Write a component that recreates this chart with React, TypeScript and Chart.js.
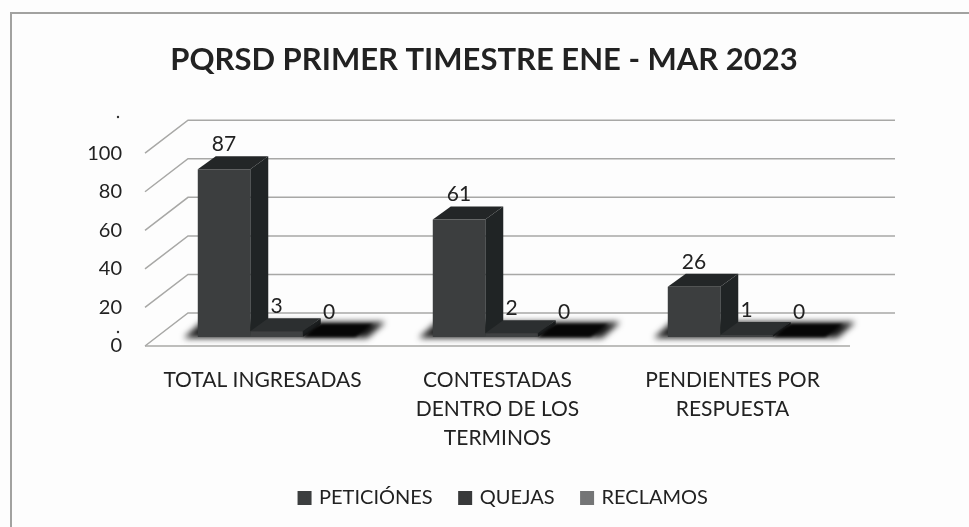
import React, { useEffect, useRef } from "react";
import { Chart, registerables } from "chart.js";

Chart.register(...registerables);

const categories = [
  "TOTAL INGRESADAS",
  ["CONTESTADAS", "DENTRO DE LOS", "TERMINOS"],
  ["PENDIENTES POR", "RESPUESTA"],
];
const peticiones = [87, 61, 26];
const quejas = [3, 2, 1];
const reclamos = [0, 0, 0];
const titleText = "PQRSD PRIMER TIMESTRE ENE - MAR 2023";
const FONT = "Lato, Carlito, 'Open Sans', sans-serif";

const fronts = ["#3c3e3f", "#3f4142", "#111212"];
const sides = ["#202425", "#1c1f20", "#0b0b0b"];
const tops = ["#232627", "#2c2f30", "#060606"];
const legendColors = ["#3c3e3f", "#38393a", "#747576"];

const WALL_DX = 43, WALL_DY = -33;
const BAR_DX = 14, BAR_DY = -9;
const DEPTH_DX = 18, DEPTH_DY = -13;

const scene = {
  id: "scene",
  afterLayout(chart: any) {
    // the reference centres title and legend independently of the plot area
    chart.titleBlock.left += 19;
    chart.titleBlock.right += 19;
    chart.legend.left += 39;
    chart.legend.right += 39;
  },
  beforeDraw(chart: any) {
    const { ctx, width, height } = chart;
    ctx.save();
    ctx.fillStyle = "#fdfdfd";
    ctx.fillRect(0, 0, width, height);
    ctx.strokeStyle = "#a2a2a0";
    ctx.lineWidth = 2;
    ctx.strokeRect(11, 13, 975, 540);
    ctx.fillStyle = "#333";
    ctx.beginPath();
    ctx.arc(118, 117, 1.2, 0, Math.PI * 2);
    ctx.arc(118, 332, 1.2, 0, Math.PI * 2);
    ctx.fill();
    ctx.restore();
  },
  beforeDatasetsDraw(chart: any) {
    const { ctx, chartArea: a, scales } = chart;
    const y = scales.y;
    ctx.save();
    ctx.strokeStyle = "#a8a8a6";
    ctx.lineWidth = 1.5;
    y.ticks.forEach((t: any) => {
      const py = y.getPixelForValue(t.value);
      ctx.beginPath();
      ctx.moveTo(a.left, py);
      ctx.lineTo(a.left + WALL_DX, py + WALL_DY);
      ctx.lineTo(a.right + WALL_DX + 2, py + WALL_DY);
      ctx.stroke();
    });
    const y0 = y.getPixelForValue(0);
    ctx.beginPath();
    ctx.moveTo(a.left, y0);
    ctx.lineTo(a.right, y0);
    ctx.stroke();
    // soft floor shadow under each group
    const m0 = chart.getDatasetMeta(0).data;
    const m2 = chart.getDatasetMeta(2).data;
    m0.forEach((b: any, i: number) => {
      const l = b.x - b.width / 2 + BAR_DX - 14;
      const r = m2[i].x + m2[i].width / 2 + BAR_DX + 12;
      const by = y0 + BAR_DY + 1;
      ctx.save();
      ctx.filter = "blur(3px)";
      ctx.fillStyle = "#1a1a1a";
      ctx.beginPath();
      ctx.moveTo(l, by);
      ctx.lineTo(r, by);
      ctx.lineTo(r + DEPTH_DX, by + DEPTH_DY - 3);
      ctx.lineTo(l + DEPTH_DX, by + DEPTH_DY - 3);
      ctx.closePath();
      ctx.fill();
      ctx.restore();
    });
    ctx.restore();
  },
  // bars are drawn below, left to right, so that each one overlaps its left neighbour's side
  beforeDatasetDraw() {
    return false;
  },
  afterDatasetsDraw(chart: any) {
    const { ctx } = chart;
    [0, 1, 2].forEach((idx) => {
      const meta = chart.getDatasetMeta(idx);
      ctx.save();
      ctx.translate(BAR_DX, BAR_DY);
      if (idx === 2) ctx.filter = "blur(1.5px)";
      meta.data.forEach((b: any) => {
        const l = b.x - b.width / 2, r = b.x + b.width / 2;
        const t = b.y, bot = b.base;
        ctx.fillStyle = sides[idx];
        ctx.beginPath();
        ctx.moveTo(r, t);
        ctx.lineTo(r + DEPTH_DX, t + DEPTH_DY);
        ctx.lineTo(r + DEPTH_DX, bot + DEPTH_DY);
        ctx.lineTo(r, bot);
        ctx.closePath();
        ctx.fill();
        ctx.fillStyle = tops[idx];
        ctx.beginPath();
        ctx.moveTo(l, t);
        ctx.lineTo(l + DEPTH_DX, t + DEPTH_DY);
        ctx.lineTo(r + DEPTH_DX, t + DEPTH_DY);
        ctx.lineTo(r, t);
        ctx.closePath();
        ctx.fill();
      });
      ctx.filter = "none";
      meta.controller.draw();
      ctx.restore();
    });
    ctx.save();
    ctx.fillStyle = "#222";
    ctx.font = `21px ${FONT}`;
    ctx.textAlign = "center";
    ctx.textBaseline = "alphabetic";
    chart.data.datasets.forEach((ds: any, d: number) => {
      chart.getDatasetMeta(d).data.forEach((b: any, i: number) => {
        ctx.fillText(String(ds.data[i]), b.x + BAR_DX, b.y + BAR_DY + DEPTH_DY - 5);
      });
    });
    ctx.restore();
  },
};

export default function App() {
  const ref = useRef<HTMLCanvasElement>(null);
  useEffect(() => {
    document.body.style.margin = "0";
    const chart = new Chart(ref.current!, {
      type: "bar",
      data: {
        labels: categories as any,
        datasets: [
          { label: "PETICIÓNES", data: peticiones, backgroundColor: fronts[0] },
          { label: "QUEJAS", data: quejas, backgroundColor: fronts[1] },
          { label: "RECLAMOS", data: reclamos, backgroundColor: "#6f7071" },
        ],
      },
      options: {
        responsive: false,
        animation: false,
        layout: { padding: { left: 80, right: 119, top: 41, bottom: 9 } },
        datasets: { bar: { categoryPercentage: 0.67, barPercentage: 1 } },
        scales: {
          x: {
            grid: { display: false },
            border: { display: false },
            afterFit: (s: any) => { s.height = 114; },
            ticks: {
              autoSkip: false,
              maxRotation: 0,
              color: "#222",
              padding: 12,
              font: { family: FONT, size: 21, lineHeight: 1.38 },
            },
          },
          y: {
            min: 0,
            max: 100,
            grid: { display: false },
            border: { display: false },
            afterFit: (s: any) => { s.width = 65; },
            ticks: {
              stepSize: 20,
              color: "#222",
              padding: 15,
              font: { family: FONT, size: 20 },
            },
          },
        },
        plugins: {
          title: {
            display: true,
            text: titleText,
            color: "#222",
            font: { family: FONT, size: 31, weight: "bold" },
            padding: { top: 0, bottom: 75 },
          },
          legend: {
            position: "bottom",
            labels: {
              boxWidth: 9,
              boxHeight: 9,
              padding: 28,
              color: "#222",
              font: { family: FONT, size: 20 },
              generateLabels: (c: any) =>
                c.data.datasets.map((ds: any, i: number) => ({
                  text: ds.label,
                  fillStyle: legendColors[i],
                  strokeStyle: legendColors[i],
                  lineWidth: 5,
                  fontColor: "#222",
                  datasetIndex: i,
                })),
            },
          },
          tooltip: { enabled: false },
        },
      },
      plugins: [scene],
    } as any);
    return () => chart.destroy();
  }, []);
  return <canvas ref={ref} width={969} height={527} style={{ display: "block" }} />;
}
